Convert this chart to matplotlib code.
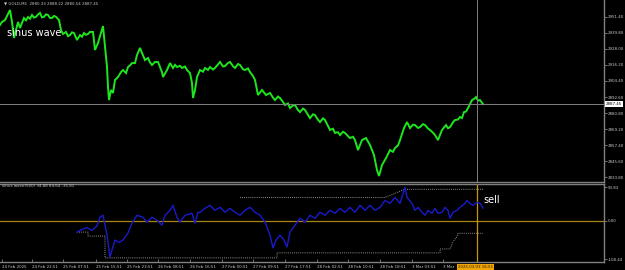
import matplotlib
matplotlib.use("Agg")
import matplotlib.pyplot as plt

# ---------------- data ----------------
price_bars = [0, 2, 5, 8, 10, 12, 14, 16, 18, 20, 22, 24, 26, 28, 30, 32, 34, 36, 38, 40,
              42, 44, 46, 48, 50, 52, 54, 56, 59, 61, 63, 66, 68, 70, 72, 74, 77, 80, 82, 84,
              86, 88, 90, 93, 95, 98, 101, 103, 105, 107, 108, 109, 111, 113, 115, 118, 121, 123, 126, 128,
              130, 132, 135, 137, 140, 142, 145, 148, 150, 152, 155, 158, 160, 162, 163, 167, 170, 173, 175, 177,
              180, 182, 185, 187, 190, 192, 193, 195, 197, 200, 203, 205, 208, 210, 213, 215, 218, 220, 223, 225,
              228, 230, 233, 235, 238, 240, 243, 245, 248, 250, 253, 255, 258, 262, 266, 270, 273, 275, 278, 280,
              283, 285, 288, 290, 293, 295, 298, 300, 303, 305, 308, 310, 313, 315, 318, 320, 323, 325, 328, 330,
              333, 335, 338, 340, 343, 345, 348, 350, 353, 355, 358, 362, 366, 370, 374, 377, 379, 382, 386, 390,
              393, 395, 398, 400, 404, 407, 410, 413, 415, 418, 420, 423, 425, 428, 430, 433, 435, 438, 442, 446,
              448, 450, 453, 455, 458, 460, 462, 464, 466, 468, 470, 472, 474, 476, 478, 480, 483]
price_close = [2945.4, 2947.6, 2949.0, 2953.4, 2956.4, 2947.6, 2935.9, 2941.7, 2947.6, 2943.2,
               2947.0, 2950.5, 2948.8, 2951.2, 2950.0, 2952.7, 2950.8, 2951.4, 2953.0, 2954.2,
               2951.0, 2951.4, 2953.2, 2952.7, 2950.6, 2950.5, 2952.0, 2951.4, 2949.0, 2941.7,
               2938.8, 2940.3, 2937.2, 2938.0, 2940.0, 2939.5, 2934.4, 2938.0, 2936.8, 2939.5,
               2938.2, 2938.8, 2940.3, 2940.3, 2927.1, 2932.2, 2939.5, 2944.6, 2929.3, 2914.6,
               2900.0, 2890.4, 2897.8, 2895.6, 2905.1, 2907.3, 2910.9, 2912.4, 2910.2, 2914.6,
               2915.8, 2917.5, 2917.5, 2923.4, 2928.6, 2924.9, 2919.7, 2921.2, 2918.0, 2916.1,
               2918.3, 2918.3, 2914.5, 2910.9, 2907.3, 2912.4, 2917.5, 2913.9, 2916.2, 2914.6,
               2915.5, 2913.9, 2915.0, 2912.4, 2910.2, 2902.9, 2891.9, 2897.8, 2907.3, 2912.4,
               2911.2, 2913.9, 2912.5, 2914.6, 2912.8, 2913.9, 2916.5, 2918.3, 2915.0, 2915.3,
               2917.6, 2918.3, 2915.2, 2913.9, 2916.8, 2916.1, 2913.0, 2912.4, 2913.6, 2910.9,
               2908.0, 2905.1, 2894.1, 2897.8, 2894.1, 2895.6, 2892.2, 2890.4, 2893.0, 2891.9,
               2889.0, 2886.8, 2887.9, 2884.6, 2886.5, 2886.8, 2883.0, 2881.6, 2884.2, 2883.1,
               2879.5, 2877.2, 2880.0, 2879.4, 2876.0, 2874.3, 2877.0, 2875.8, 2871.5, 2868.5,
               2869.4, 2866.3, 2866.9, 2864.8, 2867.2, 2866.3, 2864.0, 2862.6, 2863.5, 2861.1,
               2853.8, 2861.1, 2862.6, 2857.5, 2850.1, 2839.1, 2834.8, 2842.8, 2847.9, 2853.8,
               2852.5, 2855.3, 2857.2, 2861.1, 2869.9, 2874.3, 2869.9, 2872.4, 2872.1, 2870.0,
               2870.6, 2872.8, 2872.1, 2869.6, 2868.5, 2866.5, 2864.8, 2861.1, 2868.5, 2872.1,
               2869.8, 2870.6, 2874.2, 2875.8, 2876.2, 2878.0, 2877.2, 2881.6, 2882.0, 2884.6,
               2887.5, 2890.4, 2891.2, 2892.6, 2890.0, 2890.4, 2887.45]

wave_bars = [77, 82, 87, 92, 97, 100, 103, 107, 110, 115, 119, 123, 128, 132, 137, 143, 147, 152, 157, 162,
             165, 170, 173, 177, 180, 185, 192, 195, 198, 200, 205, 210, 215, 220, 225, 230, 235, 240, 245, 250,
             255, 260, 265, 270, 273, 276, 280, 284, 287, 290, 295, 300, 305, 310, 315, 320, 325, 330, 335, 340,
             345, 350, 355, 360, 365, 370, 375, 380, 385, 390, 395, 400, 405, 407, 412, 415, 418, 422, 425, 428,
             432, 435, 438, 442, 445, 448, 450, 453, 457, 460, 465, 467, 470, 473, 477, 480, 483]
wave_vals = [-32.6, -25.0, -20.0, -28.0, -15.0, 9.2, 14.8, -41.0, -102.4, -55.0, -62.0, -55.0, -35.4, -7.5, 14.8,
             9.2, -4.7, 9.2, 0.8, -13.1, 14.8, 28.7, 42.7, 9.2, -4.7, 14.8, 20.4, -7.5, 23.2, 23.2,
             34.3, 42.7, 28.7, 37.1, 23.2, 34.3, 23.2, 14.8, 28.7, 37.1, 23.2, 14.8, -4.7, -41.0, -77.3,
             -55.0, -41.0, -55.0, -74.5, -32.6, -13.1, 6.4, -4.7, 14.8, 6.4, 23.2, 14.8, 28.7, 20.4, 34.3,
             23.2, 37.1, 23.2, 42.7, 28.7, 42.7, 28.7, 37.1, 56.6, 48.3, 65.0, 48.3, 93.83, 65.0, 48.3,
             28.7, 37.1, 23.2, 14.8, 28.7, 20.4, 34.3, 20.4, 23.2, 37.1, 28.7, 6.4, 23.2, 28.7, 37.1,
             48.3, 56.6, 48.3, 42.7, 51.1, 48.3, 34.88]

upper_bars = [240, 385, 405, 483]
upper_vals = [65.0, 65.0, 88.0, 88.0]
lower_bars = [77, 88, 88, 105, 105, 277, 277, 440, 440, 450, 453, 457, 458, 483]
lower_vals = [-32.6, -32.6, -43.8, -43.8, -105.2, -105.2, -91.2, -91.2, -80.1, -80.1, -60.0, -45.0, -35.81, -35.81]

price_ticks = [2951.40, 2939.80, 2928.00, 2916.20, 2904.40, 2892.60, 2880.80, 2869.20, 2857.40, 2845.60, 2833.80]
wave_ticks = [93.83, 0.00, -108.44]
time_pos = [2, 32, 63, 96, 127, 158, 190, 222, 253, 285, 317, 348, 380, 412, 443]
time_labels = ["24 Feb 2025", "24 Feb 22:51", "25 Feb 07:51", "25 Feb 15:51", "25 Feb 23:51",
               "26 Feb 08:51", "26 Feb 16:51", "27 Feb 00:51", "27 Feb 09:51", "27 Feb 17:51",
               "28 Feb 02:51", "28 Feb 10:51", "28 Feb 18:51", "3 Mar 03:51", "3 Mar"]
last_price = 2887.45
cursor_bar = 477
header = "GOLD,M5  2880.33 2888.22 2880.54 2887.45"
ind_header = "sinus wave(500) 34.88 84.64 -35.81"
cursor_label = "2025.03.03 16:51"

# ---------------- drawing ----------------
W, H = 625, 270
fig = plt.figure(figsize=(W / 100, H / 100), dpi=100, facecolor="black")

def frac(x0, y0, x1, y1):
    return [x0 / W, 1 - y1 / H, (x1 - x0) / W, (y1 - y0) / H]

gray = "#808080"
txt = "#c8c8c8"
fs = 2.9
ax = fig.add_axes(frac(0, 0, 604, 182))
ax2 = fig.add_axes(frac(0, 183.5, 604, 262))

for a in (ax, ax2):
    a.set_facecolor("black")
    a.set_xlim(0, 604)
    for s in ("left", "top"):
        a.spines[s].set_visible(False)
    for s in ("right", "bottom"):
        a.spines[s].set_color(gray)
        a.spines[s].set_linewidth(1.0)
    a.yaxis.tick_right()
    a.tick_params(axis="y", colors=gray, labelcolor=txt, labelsize=fs, length=2, width=0.6, pad=1.0)
ax2.spines["top"].set_visible(True)
ax2.spines["top"].set_color(gray)
ax2.spines["top"].set_linewidth(1.0)

# main price panel
ax.set_ylim(2830.4, 2963.7)
ax.plot(price_bars, price_close, color="#1ee61e", lw=1.4, solid_joinstyle="miter")
ax.axhline(last_price, color=gray, lw=0.7)
ax.axvline(cursor_bar, color=gray, lw=0.7)
ax.set_yticks(price_ticks)
ax.set_yticklabels([f"{v:.2f}" for v in price_ticks])
ax.set_xticks([])
ax.text(606, last_price, f"{last_price:.2f}", transform=ax.transData, fontsize=fs,
        color="black", va="center", ha="left", clip_on=False,
        bbox=dict(boxstyle="square,pad=0.2", fc="white", ec="none"))
ax.text(4, 2961.3, "\u25bc " + header, fontsize=fs, color=txt, va="center", ha="left")
ax.text(7, 2939.8, "sinus wave", fontsize=7.0, color="white", va="center", ha="left")

# indicator panel
ax2.set_ylim(-116.8, 104.2)
ax2.axhline(0, color="#a8860a", lw=0.9)
ax2.axvline(cursor_bar, color="#c8960a", lw=0.9)
ax2.plot(upper_bars, upper_vals, color="#c0c0c0", lw=0.6, ls=(0, (1, 1.5)))
ax2.plot(lower_bars, lower_vals, color="#c0c0c0", lw=0.6, ls=(0, (1, 1.5)))
ax2.plot(wave_bars, wave_vals, color="#1a1acd", lw=1.0)
ax2.set_yticks(wave_ticks)
ax2.set_yticklabels([f"{v:.2f}" for v in wave_ticks])
ax2.text(2, 98.0, ind_header, fontsize=fs, color=txt, va="center", ha="left")
ax2.text(483, 58, "sell", fontsize=7.0, color="white", va="center", ha="left")

ax2.set_xticks(time_pos)
ax2.set_xticklabels(time_labels)
ax2.tick_params(axis="x", colors=gray, labelcolor=txt, labelsize=fs, length=2.5, width=0.6,
                direction="in", pad=1.8)
for lab in ax2.get_xticklabels():
    lab.set_horizontalalignment("left")
ax2.text(cursor_bar - 19, -124.5, cursor_label, fontsize=fs, color="#202020", va="top", ha="left",
         clip_on=False, bbox=dict(boxstyle="square,pad=0.3", fc="#f0a500", ec="none"))

fig.savefig("out.png", dpi=100, facecolor="black")
